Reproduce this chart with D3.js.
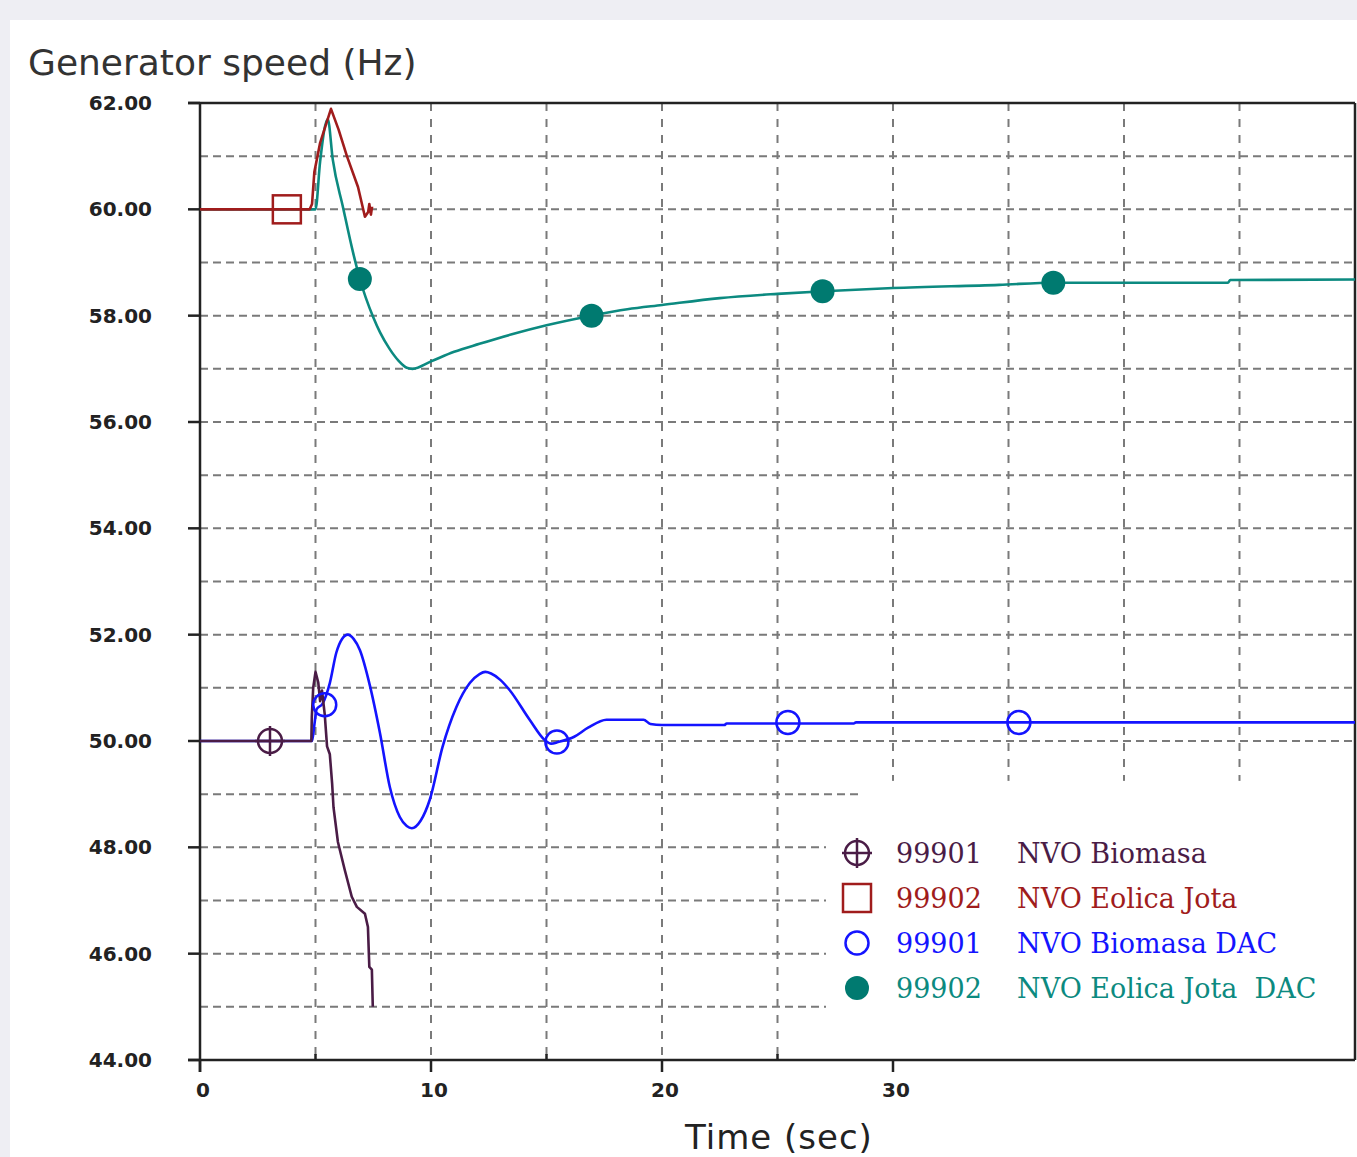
<!DOCTYPE html>
<html>
<head>
<meta charset="utf-8">
<script src="https://cdn.jsdelivr.net/npm/d3@7"></script>
<style>
html,body{margin:0;padding:0;background:#eeeef3;}
svg{display:block;}
</style>
</head>
<body>
<svg id="chart" width="1357" height="1157"></svg>
<script>
// ---- data ----
const xTicksMajor = [0, 10, 20, 30];
const xTickLabels = ["0", "10", "20", "30"];
const xTicksMinor = [5, 15, 25];
const xGridFull = [5, 10, 15, 20, 25];
const xGridShort = [30, 35, 40, 45];
const yTicksMajor = [62, 60, 58, 56, 54, 52, 50, 48, 46, 44];
const yTickLabels = ["62.00", "60.00", "58.00", "56.00", "54.00", "52.00", "50.00", "48.00", "46.00", "44.00"];
const yGrid = [61, 60, 59, 58, 57, 56, 55, 54, 53, 52, 51, 50, 49, 48, 47, 46, 45];

const biomasa = [[0,50],[4.82,50],[4.84,50.45],[4.9,51.0],[5.0,51.3],[5.12,51.1],[5.2,50.75],[5.28,50.95],[5.4,50.5],[5.5,49.9],[5.62,49.75],[5.72,49.2],[5.78,48.75],[5.97,48.1],[6.27,47.57],[6.57,47.07],[6.79,46.88],[7.14,46.75],[7.27,46.5],[7.33,45.75],[7.44,45.7],[7.48,45.0]];
const eolica = [[0,60],[4.75,60],[4.85,60.1],[4.95,60.7],[5.2,61.25],[5.67,61.89],[6.0,61.5],[6.36,61.0],[6.84,60.42],[7.14,59.86],[7.28,59.95],[7.33,60.1],[7.4,59.9],[7.45,60.05]];
const biomasaDac = [[0,50],[4.85,50],[4.95,50.3],[5.05,50.6],[5.3,50.7],[5.62,51.09],[5.9,51.66],[6.15,51.92],[6.4,52.0],[6.65,51.92],[6.92,51.71],[7.35,51.05],[7.79,50.15],[8.22,49.13],[8.65,48.57],[8.95,48.4],[9.17,48.36],[9.55,48.5],[9.95,48.9],[10.5,49.89],[11.1,50.64],[11.68,51.09],[12.1,51.26],[12.35,51.3],[12.6,51.27],[13.0,51.15],[13.4,50.96],[14.27,50.4],[14.92,50.02],[15.2,49.95],[15.5,49.98],[16.2,50.08],[16.8,50.25],[17.6,50.4],[19.2,50.4],[19.5,50.32],[20,50.3],[22.7,50.3],[22.8,50.33],[28.3,50.33],[28.4,50.35],[50,50.35]];
const eolicaDac = [[0,60],[5.0,60.0],[5.2,60.9],[5.53,61.7],[5.75,60.93],[6.19,60.04],[6.63,59.18],[6.92,58.69],[7.5,57.97],[7.8,57.68],[8.2,57.38],[8.6,57.15],[8.95,57.02],[9.2,57.0],[10.0,57.14],[11,57.32],[12.1,57.47],[13.5,57.65],[15,57.82],[16.95,58.0],[18.5,58.12],[20,58.2],[22.5,58.33],[25,58.41],[27,58.46],[30,58.52],[34.6,58.58],[37,58.62],[44.5,58.62],[44.6,58.67],[50,58.68]];

const biomasaMarkers = [[3.03,50]];
const eolicaMarkers = [[3.76,60]];
const biomasaDacMarkers = [[5.4,50.68],[15.45,49.98],[25.45,50.35],[35.45,50.35]];
const eolicaDacMarkers = [[6.92,58.69],[16.95,58.0],[26.95,58.46],[36.94,58.62]];

const legendIds = ["99901", "99902", "99901", "99902"];
const legendNames = ["NVO Biomasa", "NVO Eolica Jota", "NVO Biomasa DAC", "NVO Eolica Jota  DAC"];
const legendKinds = ["cross", "square", "circle", "dot"];
const legendColors = ["#4a1c46", "#a01c1c", "#1414ff", "#0c8a80"];

// ---- drawing ----
const svg = d3.select("#chart");
const x = d3.scaleLinear().domain([0, 50]).range([200, 1355]);
const y = d3.scaleLinear().domain([44, 62]).range([1060, 103]);

svg.append("rect").attr("x", 10).attr("y", 20).attr("width", 1347).attr("height", 1137).attr("fill", "#ffffff");

svg.append("text").attr("x", 28).attr("y", 75)
  .attr("font-family", "DejaVu Sans, sans-serif").attr("font-size", 36)
  .attr("fill", "#333").text("Generator speed (Hz)");

const grid = svg.append("g").attr("stroke", "#7a7a7a").attr("stroke-width", 2).attr("fill", "none");
grid.selectAll("line.h").data(yGrid).join("line")
  .attr("x1", x(0)).attr("x2", x(50)).attr("y1", d => y(d)).attr("y2", d => y(d))
  .attr("stroke-dasharray", "8,5");
grid.selectAll("line.vf").data(xGridFull).join("line").attr("class","vf")
  .attr("x1", d => x(d)).attr("x2", d => x(d)).attr("y1", y(62)).attr("y2", y(44))
  .attr("stroke-dasharray", "8,8");
grid.selectAll("line.vs").data(xGridShort).join("line").attr("class","vs")
  .attr("x1", d => x(d)).attr("x2", d => x(d)).attr("y1", y(62)).attr("y2", y(49.25))
  .attr("stroke-dasharray", "8,8");

// legend background masks the grid
svg.append("rect").attr("x", 826).attr("y", y(48.95)).attr("width", x(50) - 826 - 1).attr("height", y(44) - y(48.95) - 1).attr("fill", "#fff");
svg.append("rect").attr("x", 860).attr("y", y(49.25)).attr("width", x(50) - 860 - 1).attr("height", y(48.9) - y(49.25)).attr("fill", "#fff");

// axes frame
const axisColor = "#222";
const frame = svg.append("g").attr("stroke", axisColor).attr("stroke-width", 2.5);
frame.append("line").attr("x1", 188).attr("x2", x(50)).attr("y1", y(62)).attr("y2", y(62));
frame.append("line").attr("x1", 188).attr("x2", x(50)).attr("y1", y(44)).attr("y2", y(44));
frame.append("line").attr("x1", x(0)).attr("x2", x(0)).attr("y1", y(62)).attr("y2", y(44) + 12);
frame.append("line").attr("x1", x(50)).attr("x2", x(50)).attr("y1", y(62)).attr("y2", y(44));
frame.selectAll("line.yt").data(yTicksMajor).join("line").attr("class","yt")
  .attr("x1", 188).attr("x2", x(0)).attr("y1", d => y(d)).attr("y2", d => y(d));
frame.selectAll("line.xt").data(xTicksMajor).join("line").attr("class","xt")
  .attr("x1", d => x(d)).attr("x2", d => x(d)).attr("y1", y(44)).attr("y2", y(44) + 12);
frame.selectAll("line.xm").data(xTicksMinor).join("line").attr("class","xm")
  .attr("x1", d => x(d)).attr("x2", d => x(d)).attr("y1", y(44)).attr("y2", y(44) - 6);

svg.selectAll("text.yl").data(yTicksMajor).join("text").attr("class","yl")
  .attr("x", 152).attr("y", d => y(d) + 7).attr("text-anchor", "end")
  .attr("font-family", "DejaVu Sans, sans-serif").attr("font-weight", "bold")
  .attr("font-size", 20).attr("fill", "#222").text((d, i) => yTickLabels[i]);
svg.selectAll("text.xl").data(xTicksMajor).join("text").attr("class","xl")
  .attr("x", d => x(d) + 3).attr("y", y(44) + 37).attr("text-anchor", "middle")
  .attr("font-family", "DejaVu Sans, sans-serif").attr("font-weight", "bold")
  .attr("font-size", 20).attr("fill", "#222").text((d, i) => xTickLabels[i]);
svg.append("text").attr("x", 685).attr("y", 1149)
  .attr("font-family", "DejaVu Sans, sans-serif").attr("font-size", 34)
  .attr("letter-spacing", 1)
  .attr("fill", "#222").text("Time (sec)");

// series
const smooth = d3.line().x(d => x(d[0])).y(d => y(d[1])).curve(d3.curveMonotoneX);
const straight = d3.line().x(d => x(d[0])).y(d => y(d[1]));
const series = [
  {data: biomasaDac, color: legendColors[2], gen: smooth},
  {data: eolicaDac, color: legendColors[3], gen: smooth},
  {data: biomasa, color: legendColors[0], gen: straight},
  {data: eolica, color: legendColors[1], gen: straight}
];
svg.selectAll("path.s").data(series).join("path").attr("class","s")
  .attr("d", d => d.gen(d.data)).attr("fill", "none")
  .attr("stroke", d => d.color).attr("stroke-width", 2.6).attr("stroke-linejoin", "round");

function drawMarker(g, kind, cx, cy, color) {
  if (kind === "cross") {
    g.append("circle").attr("cx", cx).attr("cy", cy).attr("r", 12).attr("fill", "none").attr("stroke", color).attr("stroke-width", 2.5);
    g.append("line").attr("x1", cx - 15).attr("x2", cx + 15).attr("y1", cy).attr("y2", cy).attr("stroke", color).attr("stroke-width", 2.5);
    g.append("line").attr("x1", cx).attr("x2", cx).attr("y1", cy - 15).attr("y2", cy + 15).attr("stroke", color).attr("stroke-width", 2.5);
  } else if (kind === "square") {
    g.append("rect").attr("x", cx - 14).attr("y", cy - 14).attr("width", 28).attr("height", 28).attr("fill", "none").attr("stroke", color).attr("stroke-width", 2.5);
  } else if (kind === "circle") {
    g.append("circle").attr("cx", cx).attr("cy", cy).attr("r", 11.5).attr("fill", "none").attr("stroke", color).attr("stroke-width", 2.5);
  } else {
    g.append("circle").attr("cx", cx).attr("cy", cy).attr("r", 12).attr("fill", "#007a70");
  }
}
const mk = svg.append("g");
[[biomasaMarkers, 0], [eolicaMarkers, 1], [biomasaDacMarkers, 2], [eolicaDacMarkers, 3]].forEach(([arr, i]) => {
  arr.forEach(p => drawMarker(mk, legendKinds[i], x(p[0]), y(p[1]), legendColors[i]));
});

// legend
const lg = svg.append("g");
legendIds.forEach((id, i) => {
  const cy = 853 + i * 45;
  drawMarker(lg, legendKinds[i], 857, cy, legendColors[i]);
  lg.append("text").attr("x", 896).attr("y", cy + 10)
    .attr("font-family", "DejaVu Serif, serif").attr("font-size", 27)
    .attr("fill", legendColors[i]).text(id);
  lg.append("text").attr("x", 1017).attr("y", cy + 10)
    .attr("font-family", "DejaVu Serif, serif").attr("font-size", 27)
    .attr("fill", legendColors[i]).style("white-space", "pre").text(legendNames[i]);
});
</script>
</body>
</html>
